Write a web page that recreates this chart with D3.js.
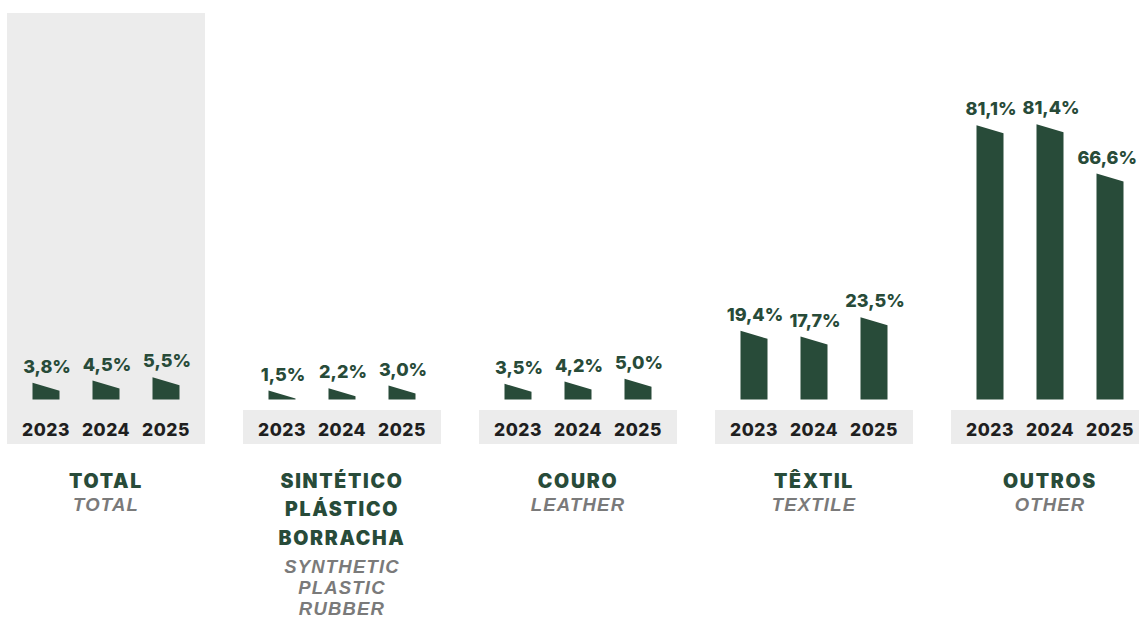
<!DOCTYPE html>
<html>
<head>
<meta charset="utf-8">
<script src="https://cdn.jsdelivr.net/npm/d3@7"></script>
<style>
  body { margin: 0; background: #fff; }
  svg { display: block; }
  .val { font-family: Inter, sans-serif; font-weight: 800; fill: #284b39; }
  .year { font-family: Inter, sans-serif; font-weight: 800; fill: #1f1f1f; letter-spacing: 0.5px; }
  .pt { font-family: Inter, sans-serif; font-weight: 900; fill: #284b39; letter-spacing: 1.7px; }
  .en { font-family: "Liberation Sans", sans-serif; font-style: italic; font-weight: 700; fill: #7a7a7a; letter-spacing: 1.2px; }
</style>
</head>
<body>
<div class="chart"></div>
<script>
// data
const categories = ["total", "sintetico", "couro", "textil", "outros"];
const titlesPt = [["TOTAL"], ["SINTÉTICO", "PLÁSTICO", "BORRACHA"], ["COURO"], ["TÊXTIL"], ["OUTROS"]];
const titlesEn = [["TOTAL"], ["SYNTHETIC", "PLASTIC", "RUBBER"], ["LEATHER"], ["TEXTILE"], ["OTHER"]];
const years = ["2023", "2024", "2025"];
const total = [3.8, 4.5, 5.5];
const sintetico = [1.5, 2.2, 3.0];
const couro = [3.5, 4.2, 5.0];
const textil = [19.4, 17.7, 23.5];
const outros = [81.1, 81.4, 66.6];
const values = [total, sintetico, couro, textil, outros];

const width = 1139, height = 619;
const baseY = 399.5;
const bandTop = 410, bandBottom = 444;
const groupW = 198, barW = 27, slant = 4;

const ptBR = d3.formatLocale({ decimal: ",", thousands: ".", grouping: [3], currency: ["R$", ""] });
const fmt = v => ptBR.format(".1f")(v) + "%";

const svg = d3.select('.chart')
  .append('svg')
  .attr('width', width)
  .attr('height', height);

const x = d3.scalePoint()
  .domain(categories)
  .range([106, 1050]);

const y = d3.scaleLinear()
  .domain([0, 90])
  .range([baseY, baseY - 300]);

// background panels: full one for total, just year strip for the rest
categories.forEach((c, i) => {
  const cx = x(c);
  svg.append('rect')
    .attr('x', cx - groupW / 2)
    .attr('y', i === 0 ? 13 : bandTop)
    .attr('width', groupW)
    .attr('height', i === 0 ? bandBottom - 13 : bandBottom - bandTop)
    .attr('fill', '#ececec');
});

const groups = svg.selectAll('.group')
  .data(categories.map((c, i) => ({ key: c, vals: values[i], pt: titlesPt[i], en: titlesEn[i] })))
  .enter().append('g')
  .attr('class', 'group')
  .attr('transform', d => `translate(${x(d.key)},0)`);

const xi = d3.scalePoint()
  .domain(years)
  .range([-60, 60]);

const bars = groups.selectAll('.bar')
  .data(d => d.vals.map((v, j) => ({ year: years[j], v })))
  .enter();

// bars with slanted top (left edge higher)
bars.append('path')
  .attr('class', 'bar')
  .attr('fill', '#284b39')
  .attr('d', d => {
    const x0 = xi(d.year) - barW / 2, x1 = x0 + barW;
    const yc = y(d.v);
    const yl = yc - slant;
    const yr = Math.min(yc + slant, baseY - 1);
    return `M${x0},${baseY}L${x0},${yl}L${x1},${yr}L${x1},${baseY}Z`;
  });

bars.append('text')
  .attr('class', 'val')
  .attr('x', d => xi(d.year) + 1)
  .attr('y', d => y(d.v) - slant - 10)
  .attr('text-anchor', 'middle')
  .attr('font-size', 18)
  .text(d => fmt(d.v));

// keep value labels inside the picture at the right edge
groups.each(function (d) {
  const gx = x(d.key);
  d3.select(this).selectAll('.val').each(function () {
    const t = d3.select(this);
    const half = this.getComputedTextLength() / 2;
    const cx = +t.attr('x');
    if (gx + cx + half > width - 2) t.attr('x', width - 2 - half - gx);
  });
});

groups.selectAll('.year')
  .data(years)
  .enter().append('text')
  .attr('class', 'year')
  .attr('x', d => xi(d))
  .attr('y', 435.5)
  .attr('text-anchor', 'middle')
  .attr('font-size', 17.5)
  .text(d => d);

// category titles
groups.each(function (d) {
  const g = d3.select(this);
  d.pt.forEach((t, k) => {
    g.append('text')
      .attr('class', 'pt')
      .attr('x', 0)
      .attr('y', 487.5 + k * 28.5)
      .attr('text-anchor', 'middle')
      .attr('font-size', 19.5)
      .text(t);
  });
  const y0 = d.pt.length > 1 ? 572.5 : 511;
  d.en.forEach((t, k) => {
    g.append('text')
      .attr('class', 'en')
      .attr('x', 0)
      .attr('y', y0 + k * 21)
      .attr('text-anchor', 'middle')
      .attr('font-size', 18.5)
      .text(t);
  });
});
</script>
</body>
</html>
